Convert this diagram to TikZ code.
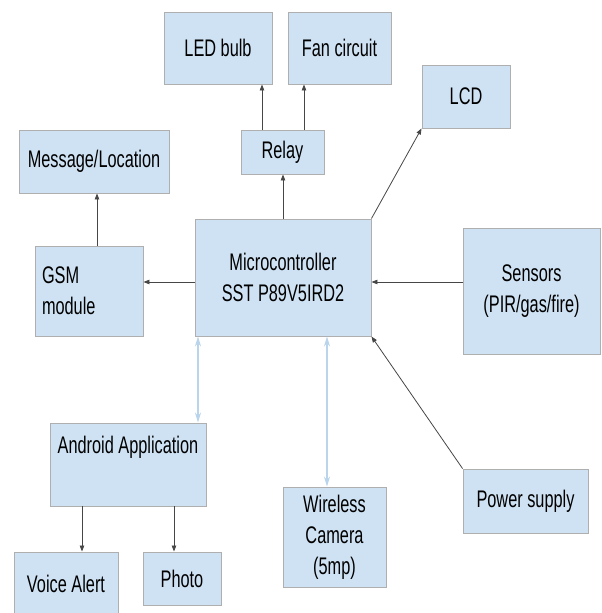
\documentclass[tikz,border=0pt]{standalone}
\usepackage{fontspec}
\setmainfont{Liberation Sans}[FakeStretch=0.68]
\usetikzlibrary{arrows.meta}
\definecolor{boxfill}{RGB}{207,226,243}
\definecolor{boxline}{RGB}{175,175,175}
\definecolor{arrcol}{RGB}{70,70,70}
\definecolor{dblue}{RGB}{185,212,235}
\tikzset{
  box/.style={draw=boxline, fill=boxfill, line width=0.9pt, inner sep=0pt,
    font=\fontsize{24}{31}\selectfont, align=center},
  arr/.style={draw=arrcol, line width=0.8pt, -{Triangle[length=6pt,width=4.5pt]}},
  darr/.style={draw=dblue, line width=2.4pt,
    {Stealth[length=10pt,width=6pt]}-{Stealth[length=10pt,width=6pt]}}
}
\begin{document}
\begin{tikzpicture}[x=1pt,y=-1pt]
\useasboundingbox (0,0) rectangle (602,613);
\node[box, minimum width=108pt, minimum height=72pt] (led) at (218,48) {LED bulb};
\node[box, minimum width=103pt, minimum height=72pt] (fan) at (339.5,48) {Fan circuit};
\node[box, minimum width=88pt, minimum height=63pt] (lcd) at (466,96.5) {LCD};
\node[box, minimum width=83pt, minimum height=44pt] (relay) at (282.5,152) {Relay};
\node[box, minimum width=150pt, minimum height=63pt] (msg) at (94,161.5) {Message/Location};
\node[box, minimum width=108pt, minimum height=90pt, align=left, text width=94pt] (gsm) at (89,291) {GSM\\module};
\node[box, minimum width=176pt, minimum height=117pt] (mcu) at (283,277.5) {Microcontroller\\SST P89V5IRD2};
\node[box, minimum width=137pt, minimum height=126pt] (sens) at (531.5,291) {Sensors\\(PIR/gas/fire)};
\node[box, minimum width=156pt, minimum height=83pt] (andr) at (128,464.5) {Android Application\\\strut};
\node[box, minimum width=104pt, minimum height=63pt] (voice) at (66,583.5) {Voice Alert};
\node[box, minimum width=78pt, minimum height=53pt] (photo) at (182,578.5) {Photo};
\node[box, minimum width=103pt, minimum height=100pt] (cam) at (334.5,537) {Wireless\\Camera\\(5mp)};
\node[box, minimum width=125pt, minimum height=64pt] (pow) at (525.5,501) {Power supply};

\draw[arr] ([xshift=-20.5pt]relay.north) -- ([xshift=-20.5pt]relay.north |- led.south);
\draw[arr] ([xshift=21.5pt]relay.north) -- ([xshift=21.5pt]relay.north |- fan.south);
\draw[arr] (mcu.north) -- (mcu.north |- relay.south);
\draw[arr] (mcu.north east) -- (lcd.south west);
\draw[arr] ([xshift=8pt]gsm.north) -- ([xshift=8pt]gsm.north |- msg.south);
\draw[arr] ([yshift=-4.5pt]mcu.west) -- ([yshift=9pt]gsm.east);
\draw[arr] ([yshift=9pt]sens.west) -- ([yshift=-4.5pt]mcu.east);
\draw[arr] (pow.north west) -- (mcu.south east);
\draw[darr] ([xshift=-85pt]mcu.south) -- ([xshift=70pt]andr.north);
\draw[darr] ([xshift=44pt]mcu.south) -- ([xshift=-7.5pt]cam.north);
\draw[arr] ([xshift=-46pt]andr.south) -- ([xshift=16pt]voice.north);
\draw[arr] ([xshift=46pt]andr.south) -- ([xshift=-8pt]photo.north);
\end{tikzpicture}
\end{document}
